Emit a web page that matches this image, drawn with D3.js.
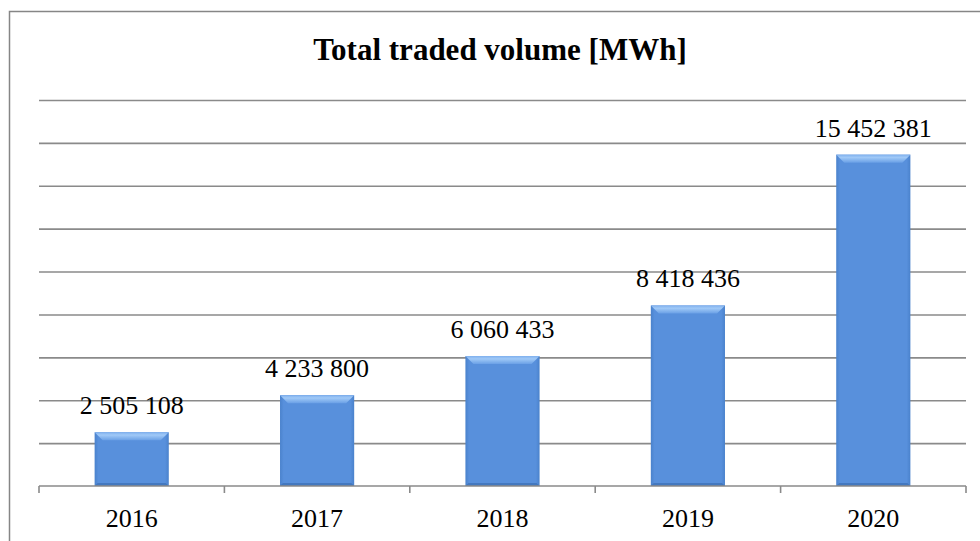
<!DOCTYPE html>
<html><head><meta charset="utf-8">
<script src="https://cdn.jsdelivr.net/npm/d3@7"></script>
<style>html,body{margin:0;padding:0;background:#fff;}svg{display:block;}
text{font-family:"Liberation Serif","Times New Roman",Times,"DejaVu Serif",serif;}</style>
</head><body>
<svg id="c" width="980" height="541"></svg>
<script>
const categories = ["2016","2017","2018","2019","2020"];
const values = [2505108, 4233800, 6060433, 8418436, 15452381];
const valueLabels = ["2 505 108","4 233 800","6 060 433","8 418 436","15 452 381"];
const yTicks = [0,2000000,4000000,6000000,8000000,10000000,12000000,14000000,16000000,18000000];
const title = "Total traded volume [MWh]";

(function(){
const svg = d3.select("#c");
const pLeft = 39, pRight = 966, pTop = 100, pBottom = 486;

svg.append("rect").attr("x",9.5).attr("y",11.5).attr("width",990).attr("height",600)
  .attr("fill","none").attr("stroke","#868686").attr("stroke-width",1.5);

const x = d3.scaleBand().domain(categories).range([pLeft,pRight]).paddingInner(0.6).paddingOuter(0.3);
const y = d3.scaleLinear().domain([0,18000000]).range([pBottom,pTop]);

svg.append("g").attr("transform",`translate(${pLeft},0)`)
  .call(d3.axisLeft(y).tickValues(yTicks.slice(1)).tickSize(-(pRight-pLeft)).tickFormat(""))
  .call(g=>g.select(".domain").remove())
  .call(g=>g.selectAll("line").attr("stroke","#8a8a8a").attr("stroke-width",1.6));

const defs = svg.append("defs");
const gMain = defs.append("linearGradient").attr("id","gm").attr("x1",0).attr("x2",1).attr("y1",0).attr("y2",0);
gMain.append("stop").attr("offset","0").attr("stop-color","#4a82cc");
gMain.append("stop").attr("offset","0.05").attr("stop-color","#5890dc");
gMain.append("stop").attr("offset","0.95").attr("stop-color","#5890dc");
gMain.append("stop").attr("offset","1").attr("stop-color","#4a82cc");
const gTop = defs.append("linearGradient").attr("id","gt").attr("x1",0).attr("x2",0).attr("y1",0).attr("y2",1);
gTop.append("stop").attr("offset","0").attr("stop-color","#7fb0ee");
gTop.append("stop").attr("offset","0.35").attr("stop-color","#a0c9f7");
gTop.append("stop").attr("offset","1").attr("stop-color","#6aa0e6");

const bars = svg.append("g").selectAll("g").data(categories).join("g");
const bev = 8;
bars.append("rect")
  .attr("x",d=>x(d)).attr("width",x.bandwidth())
  .attr("y",(d,i)=>y(values[i])).attr("height",(d,i)=>y(0)-y(values[i]))
  .attr("fill","url(#gm)");
bars.append("path").attr("fill","url(#gt)")
  .attr("d",(d,i)=>{const x0=x(d),x1=x(d)+x.bandwidth(),t=y(values[i]);
    return `M${x0},${t}L${x1},${t}L${x1-bev},${t+bev}L${x0+bev},${t+bev}Z`;});
bars.append("path").attr("fill","#3f72b8").attr("opacity",0.8)
  .attr("d",(d)=>{const x0=x(d),x1=x(d)+x.bandwidth(),b=y(0);
    return `M${x0},${b}L${x1},${b}L${x1-3},${b-3}L${x0+3},${b-3}Z`;});

svg.append("g").attr("transform",`translate(0,${pBottom})`)
  .call(d3.axisBottom(x).tickSize(0).tickFormat(""))
  .call(g=>g.select(".domain").attr("stroke","#8a8a8a").attr("stroke-width",1.6).attr("d",`M${pLeft},0H${pRight}`));
const bounds = categories.map(c=>x(c)-x.step()*x.paddingInner()/2).concat([pRight]);
svg.append("g").selectAll("line").data(bounds).join("line")
  .attr("x1",d=>d).attr("x2",d=>d).attr("y1",pBottom).attr("y2",pBottom+7)
  .attr("stroke","#8a8a8a").attr("stroke-width",1.6);

svg.append("g").selectAll("text").data(categories).join("text")
  .attr("x",d=>x(d)+x.bandwidth()/2).attr("y",pBottom+41)
  .attr("text-anchor","middle").attr("font-size",26)
  .attr("fill","#000").text(d=>d);

svg.append("g").selectAll("text").data(categories).join("text")
  .attr("x",d=>x(d)+x.bandwidth()/2).attr("y",(d,i)=>y(values[i])-18)
  .attr("text-anchor","middle").attr("font-size",26)
  .attr("fill","#000").text((d,i)=>valueLabels[i]);

svg.append("text").attr("x",500).attr("y",60).attr("text-anchor","middle")
  .attr("font-weight","bold").attr("font-size",31)
  .text(title);
})();
</script>
</body></html>
